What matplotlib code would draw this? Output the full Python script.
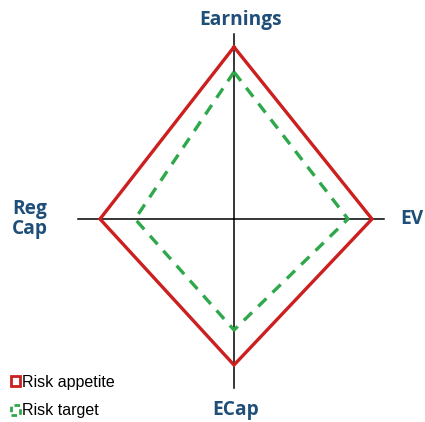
import matplotlib; matplotlib.use('Agg')
import matplotlib.pyplot as plt
import matplotlib.patches as mpatches
import numpy as np

# axes in order: Earnings (up), EV (right), ECap (down), Reg Cap (left)
AXES = ['Earnings', 'EV', 'ECap', 'Reg\nCap']
appetite = [172, 138, 146, 134]
target = [147, 114, 111, 99]
axis_len = [185, 150, 169, 156]
DIRS = np.array([[0, -1], [1, 0], [0, 1], [-1, 0]])  # image coords (y down)
CX, CY = 234, 219

RED = '#cc1f1f'; GREEN = '#2ea84a'; BLUE = '#1f4e79'

fig = plt.figure(figsize=(4.25, 4.22), dpi=100)
ax = fig.add_axes([0, 0, 1, 1])
ax.set_xlim(0, 425); ax.set_ylim(422, 0); ax.axis('off')

for d, L in zip(DIRS, axis_len):
    ax.plot([CX, CX + d[0]*L], [CY, CY + d[1]*L], color='black', lw=1.1, zorder=1)

def poly(vals):
    pts = np.array([[CX + d[0]*v, CY + d[1]*v] for d, v in zip(DIRS, vals)])
    return np.vstack([pts, pts[:1]])

p = poly(appetite)
ax.plot(p[:, 0], p[:, 1], color=RED, lw=2.4, solid_joinstyle='miter', zorder=3)
p = poly(target)
ax.plot(p[:, 0], p[:, 1], color=GREEN, lw=2.4, ls=(0, (3.4, 2.6)), zorder=2)

lab = dict(fontfamily='Open Sans', fontweight='bold', fontsize=13.8, color=BLUE)
ax.text(241, 20, AXES[0], ha='center', va='center', **lab)
ax.text(412, 219, AXES[1], ha='center', va='center', **lab)
ax.text(236, 420, AXES[2], ha='center', va='bottom', **lab)
ax.text(30, 219, AXES[3], ha='center', va='center', linespacing=1.05, **lab)

h1 = mpatches.Rectangle((0, 0), 1, 1, facecolor='none', edgecolor=RED, lw=2)
h2 = mpatches.Rectangle((0, 0), 1, 1, facecolor='none', edgecolor=GREEN, lw=2, ls=(0, (2, 1.5)))
ax.legend([h1, h2], ['Risk appetite', 'Risk target'], loc='lower left',
          bbox_to_anchor=(0.0, -0.018), frameon=False, handlelength=0.55, handleheight=0.55,
          handletextpad=0.15, labelspacing=0.85, borderaxespad=0.3,
          prop={'family': 'Liberation Sans', 'size': 11.5})

fig.savefig('out.png', dpi=100)
